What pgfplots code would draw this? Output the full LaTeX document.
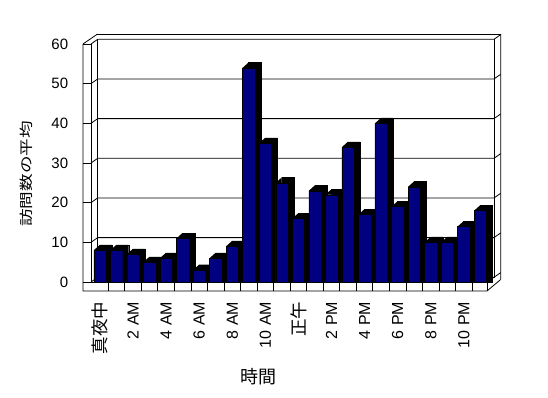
\documentclass[border=0pt]{standalone}
\usepackage{pgfplots}
\pgfplotsset{compat=1.18}
\usepackage{pgfplotstable}
\usepackage{graphicx}
\usepackage{fontspec}
\setmainfont{Liberation Sans}
\newfontfamily\cjk{Noto Sans CJK JP}
\definecolor{barblue}{RGB}{0,0,128}

\pgfdeclareplotmark{toptri}{%
  \pgfpathmoveto{\pgfpoint{-6.2pt}{0pt}}%
  \pgfpathlineto{\pgfpoint{-0.2pt}{5.4pt}}%
  \pgfpathlineto{\pgfpoint{-0.2pt}{0pt}}%
  \pgfpathclose
  \pgfusepathqfill}

\pgfplotstableread{
k v
0 8
1 8
2 7
3 5
4 6
5 11
6 3
7 6
8 9
9 54
10 35
11 25
12 16
13 23
14 22
15 34
16 17
17 40
18 19
19 24
20 10
21 10
22 14
23 18
}\datatable

\begin{document}
\begin{tikzpicture}
\useasboundingbox (0,0) rectangle (548pt,398pt);
\begin{scope}[yshift=398pt, x=1pt, y=-1pt, line width=0.8pt, line join=miter]
  % gridlines, ticks on the left slab
  \foreach \v in {0,10,...,60}{
    \pgfmathsetmacro\yf{282-3.9667*\v}
    \draw (83,\yf) -- (91,\yf);
    \draw (91,\yf) -- (97.7,\yf-4.7) -- (494,\yf-4.7) -- (500.7,\yf-9.4);
  }
  % outer frame
  \draw (83,44) -- (96.7,34.6) -- (500.7,34.6) -- (500.7,279.5);
  \draw (83,44) -- (83,291) -- (487,291) -- (500.7,279.5);
  \draw (91,44) -- (91,282) -- (487,282) -- (487,291);
  \draw (97.7,39.3) -- (97.7,277.3) -- (494,277.3) -- (494,39.3);
  \draw (487,282) -- (494,277.3);
  \foreach \k in {1,...,23}{
    \draw (91.7+16.54*\k,282) -- ++(0,9);
  }
  % axis titles
  \node[rotate=90] at (26.7,174) {\cjk\fontsize{16}{16}\selectfont\scalebox{1.1}[0.85]{訪問数の平均}};
  \node at (258,377) {\cjk\fontsize{18}{18}\selectfont 時間};
\end{scope}

\begin{axis}[
  at={(91.7pt,116pt)}, anchor=south west,
  scale only axis, width=397pt, height=238pt,
  xmin=-0.5, xmax=23.5, ymin=0, ymax=60,
  clip=false,
  axis line style={draw=none},
  tick style={draw=none}, major tick length=0pt,
  ytick={0,10,...,60},
  xtick={0,2,...,22},
  xticklabels={{\cjk\fontsize{17.5}{18}\selectfont 真夜中},2 AM,4 AM,6 AM,8 AM,10 AM,{\cjk\fontsize{17.5}{18}\selectfont 正午},2 PM,4 PM,6 PM,8 PM,10 PM},
  /pgf/number format/assume math mode=true,
  yticklabel style={font=\fontsize{15}{18}\selectfont, inner sep=0pt, anchor=east},
  yticklabel shift=23.4pt,
  xticklabel style={font=\fontsize{16}{18}\selectfont, rotate=90, anchor=east, inner sep=0pt},
  xticklabel shift=19.7pt,
]
\addplot[ybar, bar width=12.4pt, bar shift=6pt, fill=black, draw=black, line width=0.4pt]
  table[x=k, y expr=\thisrow{v}+1.35]{\datatable};
\addplot[only marks, mark=toptri, fill=black, draw=none]
  table[x=k, y=v]{\datatable};
\addplot[ybar, bar width=12.4pt, bar shift=0pt, fill=barblue, draw=black, line width=0.4pt]
  table[x=k, y=v]{\datatable};
\end{axis}
\end{tikzpicture}
\end{document}
